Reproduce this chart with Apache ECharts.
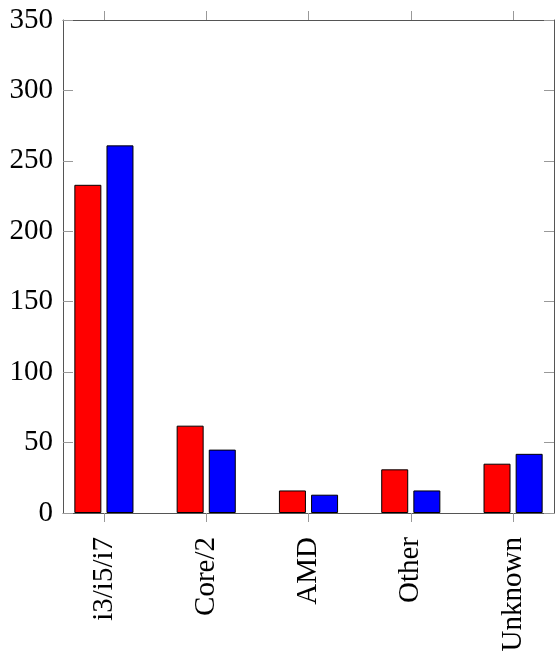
<!DOCTYPE html>
<html>
<head>
<meta charset="utf-8">
<script src="https://cdn.jsdelivr.net/npm/echarts@6/dist/echarts.min.js"></script>
<style>
  html, body { margin: 0; padding: 0; background: #fff; }
  #main { width: 555px; height: 666px; }
</style>
</head>
<body>
<div id="main"></div>
<script>
// categories along x
const categories = ['i3/i5/i7', 'Core/2', 'AMD', 'Other', 'Unknown']
// first (red) and second (blue) series
const redValues = [233, 62, 16, 31, 35]
const blueValues = [261, 45, 13, 16, 42]
// y tick labels
const yTicks = [0, 50, 100, 150, 200, 250, 300, 350]

const idx = categories.map((c, i) => i)
const font = 'Liberation Serif'

const frameX = (pos, showLabel) => ({
    type: 'value',
    position: pos,
    min: -0.4,
    max: 4.4,
    splitLine: { show: false },
    axisLine: { show: true, onZero: false, lineStyle: { color: '#555', width: 1 } },
    axisTick: { show: true, inside: false, length: 9, customValues: idx, lineStyle: { color: '#999' } },
    axisLabel: {
        show: showLabel,
        customValues: idx,
        rotate: 90,
        margin: 24,
        fontFamily: font,
        fontSize: 29,
        color: '#000',
        formatter: v => categories[Math.round(v)] || ''
    }
})

const frameY = (pos, showLabel) => ({
    type: 'value',
    position: pos,
    min: yTicks[0],
    max: yTicks[yTicks.length - 1],
    interval: 50,
    splitLine: { show: false },
    axisLine: { show: true, onZero: false, lineStyle: { color: '#555', width: 1 } },
    axisTick: { show: true, inside: true, length: 10, lineStyle: { color: '#999' } },
    axisLabel: {
        show: showLabel,
        margin: 10,
        fontFamily: font,
        fontSize: 29,
        color: '#000'
    }
})

const chart = echarts.init(document.getElementById('main'), null, { renderer: 'canvas' })
chart.setOption({
    backgroundColor: '#ffffff',
    animation: false,
    grid: { left: 63, right: 1, top: 20, bottom: 153, containLabel: false },
    xAxis: [frameX('bottom', true), frameX('top', false)],
    yAxis: [frameY('left', true), frameY('right', false)],
    series: [
        {
            type: 'bar',
            xAxisIndex: 0,
            yAxisIndex: 0,
            data: redValues.map((v, i) => [i, v]),
            barWidth: 27,
            barGap: '19%',
            itemStyle: { color: '#ff0000', borderColor: '#000', borderWidth: 1 }
        },
        {
            type: 'bar',
            xAxisIndex: 0,
            yAxisIndex: 0,
            data: blueValues.map((v, i) => [i, v]),
            barWidth: 27,
            barGap: '19%',
            itemStyle: { color: '#0000ff', borderColor: '#000', borderWidth: 1 }
        }
    ]
})
</script>
</body>
</html>
